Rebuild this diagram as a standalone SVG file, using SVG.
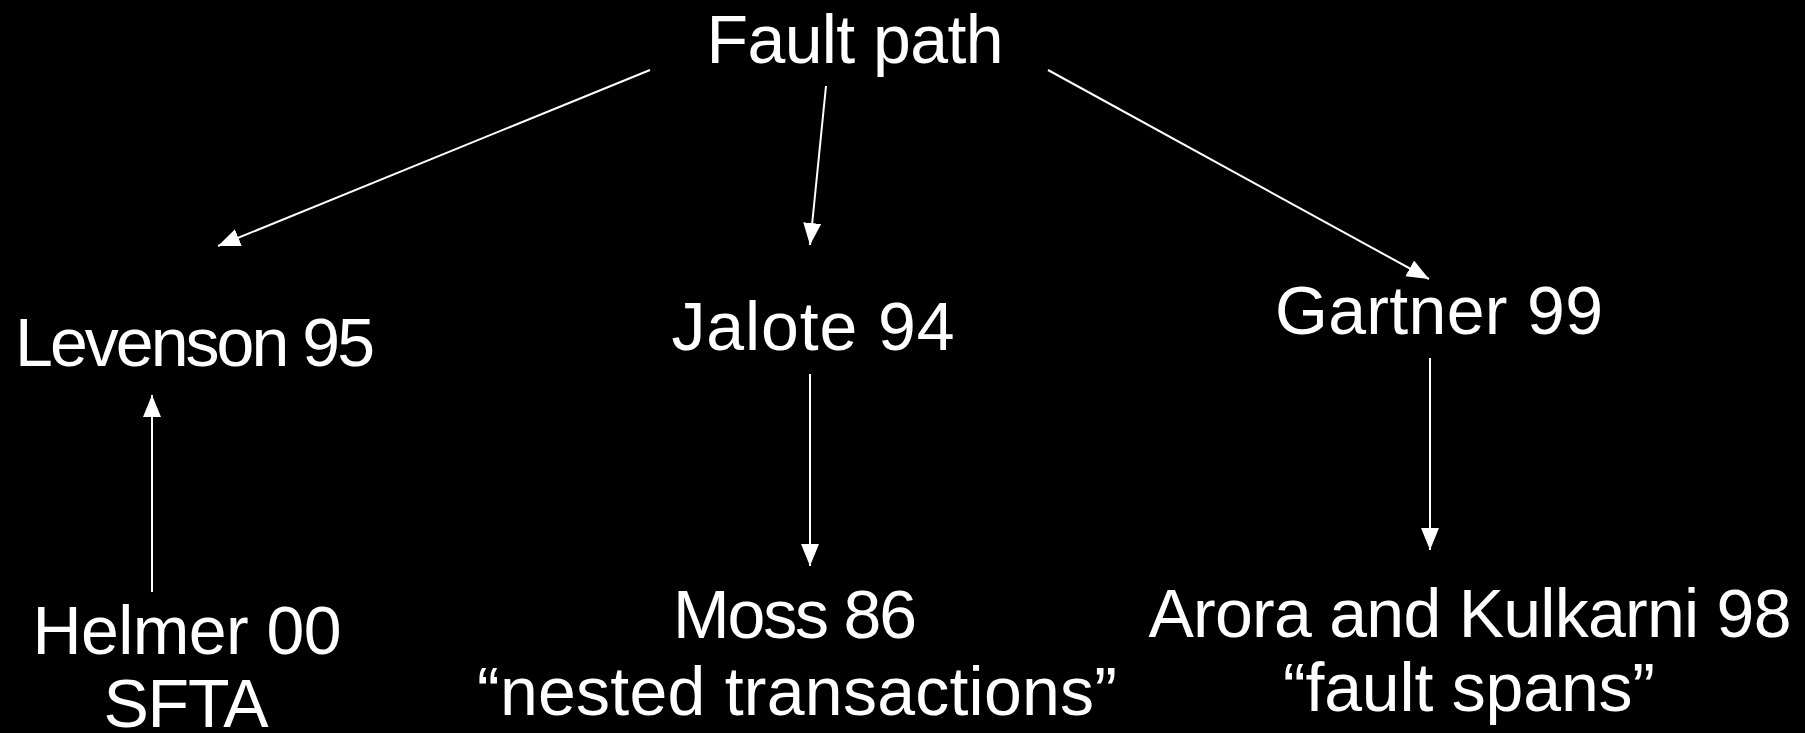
<svg xmlns="http://www.w3.org/2000/svg" width="1805" height="733" viewBox="0 0 1805 733">
  <defs>
    <marker id="arrow" markerUnits="userSpaceOnUse" markerWidth="24" markerHeight="20" refX="22" refY="9" orient="auto">
      <path d="M0,0 L22,9 L0,18 Z" fill="#ffffff"/>
    </marker>
    <style>
      .lbl { font-family: "Comic Sans MS", "Liberation Sans", sans-serif; font-size: 68px; fill: #ffffff; text-anchor: middle; }
      .edge { stroke: #ffffff; stroke-width: 2; fill: none; marker-end: url(#arrow); }
    </style>
  </defs>
  <rect width="1805" height="733" fill="#000000"/>

  <g id="connectors">
    <line class="edge" x1="650" y1="70" x2="218" y2="246"/>
    <line class="edge" x1="826" y1="86" x2="810" y2="245"/>
    <line class="edge" x1="1048" y1="70" x2="1429" y2="279"/>
    <line class="edge" x1="152" y1="592" x2="152" y2="395"/>
    <line class="edge" x1="810" y1="374" x2="810" y2="566"/>
    <line class="edge" x1="1430" y1="358" x2="1430" y2="550"/>
  </g>

  <g id="fault-path">
    <text class="lbl" x="855" y="63" textLength="297">Fault path</text>
  </g>
  <g id="levenson">
    <text class="lbl" x="195" y="366" textLength="360">Levenson 95</text>
  </g>
  <g id="jalote">
    <text class="lbl" x="813" y="350" textLength="283">Jalote 94</text>
  </g>
  <g id="gartner">
    <text class="lbl" x="1439" y="334" textLength="328">Gartner 99</text>
  </g>
  <g id="helmer">
    <text class="lbl" x="187" y="654" textLength="309">Helmer 00</text>
    <text class="lbl" x="186" y="727" textLength="165">SFTA</text>
  </g>
  <g id="moss">
    <text class="lbl" x="795" y="638" textLength="244">Moss 86</text>
    <text class="lbl" x="797" y="715" textLength="640">“nested transactions”</text>
  </g>
  <g id="arora">
    <text class="lbl" x="1470" y="637" textLength="643">Arora and Kulkarni 98</text>
    <text class="lbl" x="1469" y="711" textLength="372">“fault spans”</text>
  </g>
</svg>
